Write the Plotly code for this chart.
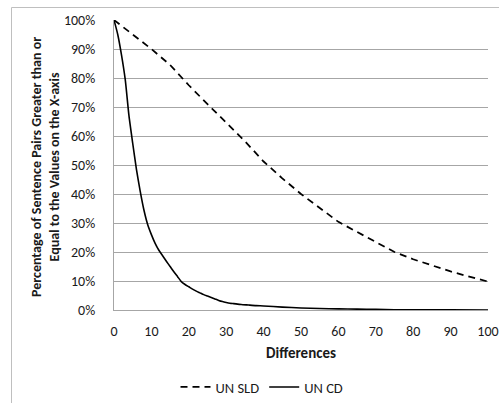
import plotly.graph_objects as go

# UN SLD: share of sentence pairs with difference >= x (percent)
sld_x = [0, 5, 10, 15, 20, 25, 30, 35, 40, 45, 50, 55, 60, 65, 70, 75, 80, 85, 90, 95, 100]
sld_y = [100, 95, 90, 84.5, 77.5, 71, 64.6, 58.2, 51.2, 45.4, 40, 35.2, 30.4, 26.9, 23.5,
         20, 17.5, 15.3, 13.3, 11.5, 9.8]

# UN CD: share of sentence pairs with difference >= x (percent)
cd_x = [0, 1, 2, 3, 4, 5, 6, 7, 8, 9, 10, 11, 12, 13, 14, 15, 16, 17, 18, 19, 20,
        21, 22, 23, 24, 25, 26, 27, 28, 29, 30, 31, 32, 34, 36, 38, 40, 45, 50, 55,
        60, 65, 70, 75, 80, 90, 100]
cd_y = [100, 95, 88, 79.5, 67, 57.5, 48.5, 41, 34.5, 29.5, 26, 23, 20.6, 18.7, 16.8,
        15.0, 13.2, 11.5, 9.8, 8.8, 8.0, 7.2, 6.5, 5.9, 5.3, 4.8, 4.3, 3.8, 3.3, 2.9,
        2.6, 2.35, 2.2, 1.9, 1.7, 1.5, 1.4, 1.0, 0.7, 0.5, 0.4, 0.3, 0.2, 0.1, 0.1,
        0.05, 0]

x_ticks = list(range(0, 101, 10))
y_ticks = [v / 100 for v in range(0, 101, 10)]

x_title = "Differences"
y_title = ("Percentage of Sentence Pairs Greater than or<br>"
           "Equal to the Values on the X-axis")

FONT = "Carlito, Lato, sans-serif"
TEXT = "#1a1a1a"
GRID = "#a6a6a6"

fig = go.Figure()
fig.add_trace(go.Scatter(
    x=sld_x, y=[v / 100 for v in sld_y], mode="lines", name="UN SLD",
    line=dict(color="black", width=1.75, dash="7px,5px"),
))
fig.add_trace(go.Scatter(
    x=cd_x, y=[v / 100 for v in cd_y], mode="lines", name="UN CD",
    line=dict(color="black", width=1.6, shape="spline", smoothing=0.6),
))

# Plot area spans 114..488 px horizontally and 20..310 px vertically
L, R, T, B = 114, 11, 20, 93
W, H = 499, 403
pw, ph = W - L - R, H - T - B

def px_x(px):
    return (px - L) / pw

def px_y(py):
    return (H - B - py) / ph

fig.update_layout(
    width=W, height=H,
    margin=dict(l=L, r=R, t=T, b=B, pad=0, autoexpand=False),
    paper_bgcolor="white", plot_bgcolor="white",
    font=dict(family=FONT, size=14, color=TEXT),
    showlegend=True,
    legend=dict(
        orientation="h", x=px_x(262), xanchor="center",
        y=px_y(387), yanchor="middle",
        font=dict(size=14.5), itemwidth=30, tracegroupgap=0,
        bgcolor="rgba(0,0,0,0)",
    ),
    xaxis=dict(
        range=[0, 100], tickvals=x_ticks, showgrid=False,
        showline=True, linecolor=GRID, linewidth=1, zeroline=False,
        ticks="", ticklabelstandoff=8, ticklabeloverflow="allow",
        automargin=False,
        fixedrange=True,
    ),
    yaxis=dict(
        range=[0, 1], tickvals=y_ticks, tickformat=".0%",
        showgrid=True, gridcolor=GRID, gridwidth=1,
        showline=True, linecolor=GRID, linewidth=1, zeroline=False,
        ticks="", ticklabelstandoff=15, ticklabeloverflow="allow",
        automargin=False,
        fixedrange=True,
    ),
    annotations=[
        dict(
            text=y_title, textangle=-90, showarrow=False,
            xref="paper", yref="paper", x=px_x(45), y=px_y(167),
            xanchor="center", yanchor="middle",
            font=dict(family=FONT, size=14, weight="bold", color=TEXT),
        ),
        dict(
            text=x_title, showarrow=False,
            xref="paper", yref="paper", x=0.5, y=px_y(353),
            xanchor="center", yanchor="middle",
            font=dict(family=FONT, size=15, weight="bold", color=TEXT),
        ),
    ],
    shapes=[dict(
        type="rect", xref="paper", yref="paper",
        x0=px_x(11.5), x1=px_x(510), y0=px_y(420), y1=px_y(7.5),
        line=dict(color="#bfbfbf", width=1), fillcolor="rgba(0,0,0,0)",
        layer="below",
    )],
)

fig.write_html("out.html")
